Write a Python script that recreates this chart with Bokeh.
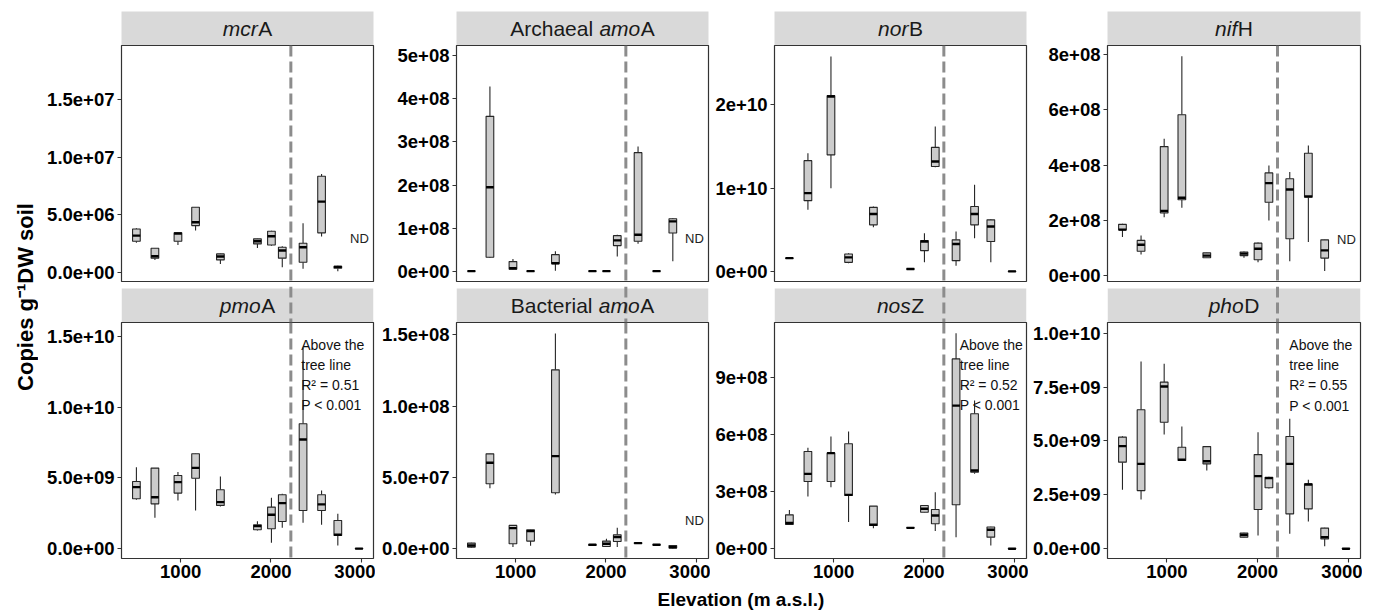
import pandas as pd
from math import pi
from bokeh.plotting import figure
from bokeh.layouts import row, column
from bokeh.models import Range1d, FixedTicker, Span, Label, BoxAnnotation
from bokeh.core.properties import value
from bokeh.embed import file_html
from bokeh.resources import INLINE

# ---------------- data ----------------
elevation = [510, 715, 970, 1165, 1440, 1850, 2005, 2125, 2355, 2560, 2740, 2975]
treeline = 2220

genes = ["mcrA", "Archaeal amoA", "norB", "nifH", "pmoA", "Bacterial amoA", "nosZ", "phoD"]

# five-number summaries per site: [lower whisker, Q1, median, Q3, upper whisker]; None = not detected
mcrA = [[2.55, 2.69, 3.18, 3.76, 3.82], [1.07, 1.22, 1.39, 2.08, 2.10], [2.37, 2.69, 3.36, 3.42, 3.45],
        [3.62, 4.05, 4.34, 5.65, 5.66], [0.72, 1.07, 1.36, 1.59, 1.60], [2.11, 2.46, 2.69, 2.90, 2.92],
        [2.30, 2.37, 3.13, 3.56, 3.60], [0.43, 1.22, 1.88, 2.17, 2.26], [0.29, 0.87, 2.17, 2.52, 4.26],
        [3.10, 3.42, 6.14, 8.34, 8.54], [0.09, 0.35, 0.46, 0.52, 0.55], None]            # x1e6
archaeal_amoA = [[0.003, 0.005, 0.008, 0.010, 0.012], [0.31, 0.33, 1.95, 3.59, 4.28], [0.04, 0.054, 0.077, 0.23, 0.29],
                 [0.003, 0.005, 0.008, 0.010, 0.012], [0.02, 0.18, 0.19, 0.39, 0.47], [0.003, 0.005, 0.008, 0.010, 0.012],
                 [0.003, 0.005, 0.008, 0.010, 0.012], [0.35, 0.60, 0.72, 0.83, 0.85], [0.64, 0.70, 0.85, 2.75, 2.89],
                 [0.003, 0.005, 0.008, 0.010, 0.012], [0.24, 0.89, 1.16, 1.22, 1.24], None]   # x1e8
norB = [[0.155, 0.158, 0.16, 0.162, 0.165], [0.74, 0.85, 0.94, 1.33, 1.42], [1.00, 1.40, 2.10, 2.11, 2.58],
        [0.10, 0.11, 0.17, 0.21, 0.22], [0.53, 0.56, 0.69, 0.77, 0.78], [0.025, 0.028, 0.03, 0.032, 0.035],
        [0.11, 0.25, 0.36, 0.37, 0.46], [1.25, 1.26, 1.32, 1.49, 1.74], [0.07, 0.13, 0.33, 0.38, 0.48],
        [0.40, 0.56, 0.69, 0.78, 1.04], [0.11, 0.36, 0.54, 0.62, 0.63], [0.0, 0.0, 0.001, 0.002, 0.003]]  # x1e10
nifH = [[1.40, 1.66, 1.67, 1.86, 1.88], [0.77, 0.89, 1.12, 1.28, 1.46], [2.12, 2.27, 2.34, 4.67, 4.95],
        [2.46, 2.75, 2.82, 5.82, 7.94], [0.64, 0.65, 0.73, 0.83, 0.84], [0.65, 0.73, 0.80, 0.86, 0.88],
        [0.49, 0.58, 0.98, 1.18, 1.20], [2.00, 2.66, 3.35, 3.72, 3.99], [0.53, 1.34, 3.12, 3.51, 3.75],
        [1.22, 2.84, 2.87, 4.43, 4.71], [0.17, 0.64, 0.92, 1.30, 1.31], None]               # x1e8
pmoA = [[3.46, 3.53, 4.35, 4.75, 5.76], [2.19, 3.17, 3.64, 5.69, 5.70], [3.41, 3.93, 4.70, 5.17, 5.41],
        [2.70, 4.98, 5.71, 6.70, 6.72], [2.99, 3.06, 3.29, 4.16, 5.10], [1.29, 1.34, 1.60, 1.69, 1.95],
        [0.42, 1.41, 2.40, 2.94, 3.60], [1.48, 1.93, 3.22, 3.81, 3.88], [1.83, 2.70, 7.71, 8.82, 14.2],
        [1.69, 2.70, 3.13, 3.81, 4.11], [0.24, 0.94, 0.99, 2.00, 2.47], [0.0, 0.0, 0.01, 0.02, 0.03]]  # x1e9
bacterial_amoA = [[0.10, 0.12, 0.23, 0.40, 0.42], [4.25, 4.56, 6.03, 6.66, 6.68], [0.12, 0.35, 1.45, 1.64, 1.65],
                  [0.21, 0.54, 1.24, 1.33, 1.35], [3.81, 3.93, 6.50, 12.55, 15.1], [0.22, 0.25, 0.28, 0.30, 0.33],
                  [0.14, 0.16, 0.35, 0.54, 0.70], [0.12, 0.51, 0.82, 0.98, 1.47], [0.36, 0.38, 0.40, 0.42, 0.44],
                  [0.25, 0.27, 0.28, 0.29, 0.30], [0.03, 0.05, 0.12, 0.23, 0.25], None]   # x1e7
nosZ = [[1.27, 1.28, 1.35, 1.78, 2.04], [2.74, 3.53, 3.93, 5.10, 5.30], [3.23, 3.53, 5.02, 5.03, 5.89],
        [1.40, 2.80, 2.83, 5.51, 6.15], [1.08, 1.22, 1.26, 2.24, 2.25], [1.08, 1.09, 1.10, 1.11, 1.12],
        [1.90, 1.92, 2.10, 2.27, 2.30], [0.93, 1.31, 1.75, 2.06, 2.97], [0.61, 2.31, 7.51, 9.96, 11.31],
        [3.93, 4.02, 4.11, 7.08, 7.78], [0.17, 0.61, 1.00, 1.14, 1.16], [0.0, 0.0, 0.005, 0.01, 0.015]]  # x1e8
phoD = [[2.74, 4.02, 4.76, 5.18, 5.22], [2.29, 2.70, 3.94, 6.45, 8.69], [5.30, 5.87, 7.53, 7.73, 8.58],
        [4.08, 4.10, 4.13, 4.71, 5.67], [3.63, 3.94, 4.06, 4.74, 4.76], [0.52, 0.54, 0.65, 0.73, 0.75],
        [0.62, 1.82, 3.37, 4.37, 5.41], [2.80, 2.83, 3.28, 3.32, 3.34], [0.70, 1.62, 3.94, 5.21, 6.03],
        [1.27, 1.85, 2.98, 3.01, 3.20], [0.12, 0.46, 0.54, 0.96, 0.98], [0.0, 0.0, 0.005, 0.01, 0.015]]  # x1e9

stats = {"mcrA": mcrA, "Archaeal amoA": archaeal_amoA, "norB": norB, "nifH": nifH,
         "pmoA": pmoA, "Bacterial amoA": bacterial_amoA, "nosZ": nosZ, "phoD": phoD}
units = {"mcrA": 1e6, "Archaeal amoA": 1e8, "norB": 1e10, "nifH": 1e8,
         "pmoA": 1e9, "Bacterial amoA": 1e7, "nosZ": 1e8, "phoD": 1e9}

y_ticks = {"mcrA": [0.0, 5e6, 1e7, 1.5e7], "Archaeal amoA": [0.0, 1e8, 2e8, 3e8, 4e8, 5e8],
           "norB": [0.0, 1e10, 2e10], "nifH": [0.0, 2e8, 4e8, 6e8, 8e8],
           "pmoA": [0.0, 5e9, 1e10, 1.5e10], "Bacterial amoA": [0.0, 5e7, 1e8, 1.5e8],
           "nosZ": [0.0, 3e8, 6e8, 9e8], "phoD": [0.0, 2.5e9, 5e9, 7.5e9, 1e10]}
y_tick_labels = {"mcrA": ["0.0e+00", "5.0e+06", "1.0e+07", "1.5e+07"],
                 "Archaeal amoA": ["0e+00", "1e+08", "2e+08", "3e+08", "4e+08", "5e+08"],
                 "norB": ["0e+00", "1e+10", "2e+10"],
                 "nifH": ["0e+00", "2e+08", "4e+08", "6e+08", "8e+08"],
                 "pmoA": ["0.0e+00", "5.0e+09", "1.0e+10", "1.5e+10"],
                 "Bacterial amoA": ["0.0e+00", "5.0e+07", "1.0e+08", "1.5e+08"],
                 "nosZ": ["0e+00", "3e+08", "6e+08", "9e+08"],
                 "phoD": ["0.0e+00", "2.5e+09", "5.0e+09", "7.5e+09", "1.0e+10"]}
x_ticks = [1000, 2000, 3000]
x_tick_labels = ["1000", "2000", "3000"]

# strip labels: (piece, italic)
strip_parts = {"mcrA": [("mcr", True), ("A", False)],
               "Archaeal amoA": [("Archaeal ", False), ("amo", True), ("A", False)],
               "norB": [("nor", True), ("B", False)],
               "nifH": [("nif", True), ("H", False)],
               "pmoA": [("pmo", True), ("A", False)],
               "Bacterial amoA": [("Bacterial ", False), ("amo", True), ("A", False)],
               "nosZ": [("nos", True), ("Z", False)],
               "phoD": [("pho", True), ("D", False)]}

nd_label_y = {"mcrA": 2.95e6, "Archaeal amoA": 0.76e8, "nifH": 1.31e8, "Bacterial amoA": 1.98e7}
fit_r2 = {"pmoA": "0.51", "nosZ": "0.52", "phoD": "0.55"}
fit_p = {"pmoA": "< 0.001", "nosZ": "< 0.001", "phoD": "< 0.001"}

x_label = "Elevation (m a.s.l.)"
y_label = "Copies g\u207b\u00b9DW soil"

# ---------------- layout / style ----------------
FONT = "Liberation Sans"
X_RANGE = (345, 3135)
BOX_W = 85
Y_RANGES = {"mcrA": (-8.09e5, 1.971e7), "Archaeal amoA": (-2.31e7, 5.23e8),
            "norB": (-1.2e9, 2.712e10), "nifH": (-2.06e7, 8.325e8),
            "pmoA": (-6.84e8, 1.596e10), "Bacterial amoA": (-6.8e6, 1.587e8),
            "nosZ": (-5.09e7, 1.187e9), "phoD": (-4.5e8, 1.0496e10)}
FIT_POS = {"pmoA": (2335, 1.494e10), "nosZ": (2395, 1.111e9), "phoD": (2350, 9.82e9)}
ND_X = 2980

YLAB_W = 38
FRAME_LEFT = [121, 456, 774, 1107]
FRAME_W = [252, 252, 252, 253]
FIG_START = [38, 375, 710, 1028]
MB_RIGHT = 2
FRAME_H = 236
STRIP_H = 34
TOP_PAD = 11
TOP_AXIS_PAD = 5
ROW_GAP = 2
BOTTOM_AXIS = 28
TOTAL_H = 611
SPAN_KW = dict(dimension="height", line_color="#8c8c8c", line_width=3, line_dash="11 5")

ARIAL = {'A': 667, 'B': 667, 'D': 722, 'H': 722, 'Z': 611, 'a': 556, 'b': 556, 'c': 500, 'e': 556,
         'f': 278, 'h': 556, 'i': 222, 'l': 222, 'm': 833, 'n': 556, 'o': 556, 'p': 556, 'r': 333,
         's': 500, 't': 278, ' ': 278}


def tw(s, size):
    return sum(ARIAL.get(ch, 556) for ch in s) * size / 1000.0


def base_fig(col, height, x_range, y_range, mb_top, mb_bottom, xloc=None, yloc=None):
    mbl = FRAME_LEFT[col] - FIG_START[col]
    p = figure(width=mbl + FRAME_W[col] + MB_RIGHT, height=height, x_range=x_range, y_range=y_range,
               output_backend="svg", toolbar_location=None, tools="", title=None,
               x_axis_location=xloc, y_axis_location=yloc,
               min_border_left=mbl, min_border_right=MB_RIGHT,
               min_border_top=mb_top, min_border_bottom=mb_bottom)
    p.grid.visible = False
    p.border_fill_color = "white"
    return p


def make_strip(gene, col, top_row):
    xr = Range1d(*X_RANGE)
    if top_row:
        s = base_fig(col, STRIP_H + TOP_PAD, xr, Range1d(0, STRIP_H), TOP_PAD, 0)
        s.background_fill_color = "#d9d9d9"
    else:
        # frame also covers the small white gap above the strip so the dashed line can cross it
        s = base_fig(col, STRIP_H + ROW_GAP, xr, Range1d(0, STRIP_H + ROW_GAP), 0, 0)
        s.background_fill_color = "white"
        s.add_layout(BoxAnnotation(bottom=0, top=STRIP_H, fill_color="#d9d9d9", fill_alpha=1.0,
                                   line_color=None, level="underlay"))
        s.add_layout(Span(location=treeline, **SPAN_KW))
    s.outline_line_color = None
    size = 21
    gap = 0.5
    parts = strip_parts[gene]
    total = sum(tw(t, size) for t, _ in parts) + gap * (len(parts) - 1)
    off = -total / 2.0
    cx = (X_RANGE[0] + X_RANGE[1]) / 2.0
    for t, ital in parts:
        s.add_layout(Label(x=cx, y=STRIP_H / 2.0, text=t, x_offset=off, text_align="left",
                           text_baseline="middle", text_font=FONT, text_font_size=f"{size}px",
                           text_font_style="italic" if ital else "normal", text_color="#1a1a1a"))
        off += tw(t, size) + gap
    return s


def make_panel(gene, col, top_row):
    mb_bottom = TOP_AXIS_PAD if top_row else BOTTOM_AXIS
    p = base_fig(col, FRAME_H + mb_bottom, Range1d(*X_RANGE), Range1d(*Y_RANGES[gene]), 0, mb_bottom,
                 xloc=None if top_row else "below", yloc="left")
    p.outline_line_color = "#333333"
    p.outline_line_width = 1.2
    p.background_fill_color = "white"

    sc = units[gene]
    rows = [(e, *[v * sc for v in st]) for e, st in zip(elevation, stats[gene]) if st is not None]
    df = pd.DataFrame(rows, columns=["x", "lo", "q1", "med", "q3", "hi"])
    df["xl"] = df["x"] - BOX_W / 2
    df["xr"] = df["x"] + BOX_W / 2

    p.segment(x0="x", y0="lo", x1="x", y1="q1", source=df, line_color="#262626", line_width=1.1)
    p.segment(x0="x", y0="q3", x1="x", y1="hi", source=df, line_color="#262626", line_width=1.1)
    p.vbar(x="x", width=BOX_W, bottom="q1", top="q3", source=df, fill_color="#cccccc",
           line_color="#262626", line_width=1.1)
    p.segment(x0="xl", y0="med", x1="xr", y1="med", source=df, line_color="#000000", line_width=2.4)

    p.add_layout(Span(location=treeline, **SPAN_KW))

    if gene in nd_label_y:
        p.text(x=[ND_X], y=[nd_label_y[gene]], text=["ND"], text_align="center", text_baseline="middle",
               text_font=value(FONT), text_font_size="13px", text_color="#222222")
    if gene in fit_r2:
        fx, fy = FIT_POS[gene]
        txt = f"Above the\ntree line\nR\u00b2 = {fit_r2[gene]}\nP {fit_p[gene]}"
        p.text(x=[fx], y=[fy], text=[txt], text_align="left", text_baseline="top",
               text_font=value(FONT), text_font_size="14px", text_line_height=1.26,
               text_color="#111111")

    yax = p.yaxis[0]
    yax.ticker = FixedTicker(ticks=y_ticks[gene])
    yax.major_label_overrides = dict(zip(y_ticks[gene], y_tick_labels[gene]))
    for ax in p.axis:
        ax.axis_line_color = None
        ax.major_tick_out = 4
        ax.major_tick_in = 0
        ax.minor_tick_out = 0
        ax.minor_tick_in = 0
        ax.major_tick_line_color = "#333333"
        ax.major_tick_line_width = 1.1
        ax.major_label_text_font = FONT
        ax.major_label_text_font_size = "18.5px"
        ax.major_label_text_font_style = "bold"
        ax.major_label_text_color = "#000000"
        ax.major_label_standoff = 3
    if not top_row:
        xax = p.xaxis[0]
        xax.ticker = FixedTicker(ticks=x_ticks)
        xax.major_label_overrides = dict(zip(x_ticks, x_tick_labels))
        xax.major_label_standoff = 2
    return p


top_genes = genes[:4]
bot_genes = genes[4:]
strips_top = row([make_strip(g, i, True) for i, g in enumerate(top_genes)])
panels_top = row([make_panel(g, i, True) for i, g in enumerate(top_genes)])
strips_bot = row([make_strip(g, i, False) for i, g in enumerate(bot_genes)])
panels_bot = row([make_panel(g, i, False) for i, g in enumerate(bot_genes)])

XL_TOP = (STRIP_H + TOP_PAD) + (FRAME_H + TOP_AXIS_PAD) + (STRIP_H + ROW_GAP) + (FRAME_H + BOTTOM_AXIS)
xl_w = FRAME_LEFT[3] + FRAME_W[3] + MB_RIGHT - FIG_START[0]
xl = figure(width=xl_w, height=TOTAL_H - XL_TOP, x_range=Range1d(FIG_START[0], FIG_START[0] + xl_w),
            y_range=Range1d(TOTAL_H, XL_TOP),
            output_backend="svg", toolbar_location=None, tools="", title=None,
            x_axis_location=None, y_axis_location=None,
            min_border_left=0, min_border_right=0, min_border_top=0, min_border_bottom=0)
xl.grid.visible = False
xl.outline_line_color = None
xl.text(x=[(FRAME_LEFT[0] + FRAME_LEFT[3] + FRAME_W[3]) / 2.0], y=[(XL_TOP + TOTAL_H) / 2.0], text=[x_label],
        text_align="center", text_baseline="middle", text_font=value(FONT),
        text_font_size="19px", text_font_style="bold", text_color="#000000")

yl = figure(width=YLAB_W, height=TOTAL_H, x_range=Range1d(0, YLAB_W), y_range=Range1d(TOTAL_H, 0),
            output_backend="svg", toolbar_location=None, tools="", title=None,
            x_axis_location=None, y_axis_location=None,
            min_border_left=0, min_border_right=0, min_border_top=0, min_border_bottom=0)
yl.grid.visible = False
yl.outline_line_color = None
yl.text(x=[25], y=[296.5], text=[y_label], angle=pi / 2, text_align="center", text_baseline="middle",
        text_font=value(FONT), text_font_size="22px", text_font_style="bold", text_color="#000000")

layout = row(yl, column(strips_top, panels_top, strips_bot, panels_bot, xl))

open("out.html", "w").write(file_html(layout, INLINE))
